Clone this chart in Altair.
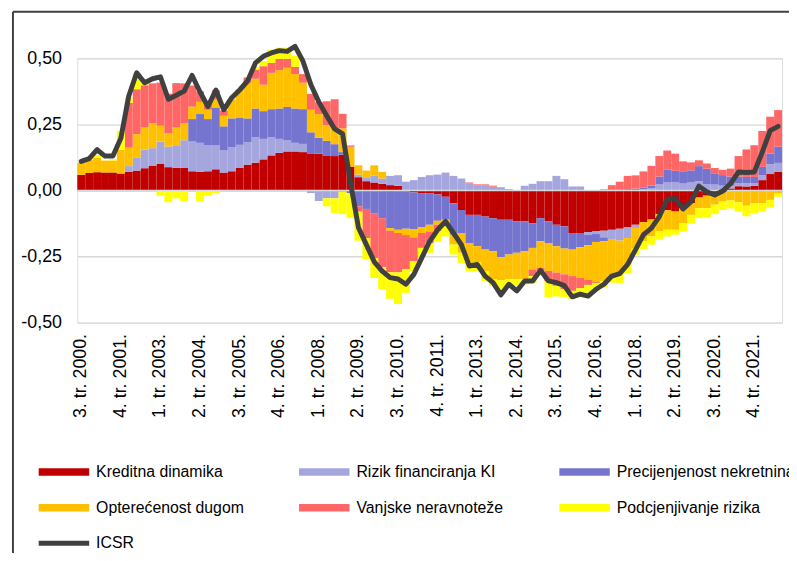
import altair as alt
import pandas as pd

# ---------------- data ----------------
n_q = 89
quarters = [f"{(i + 2) % 4 + 1}. tr. {2000 + (i + 2) // 4}." for i in range(n_q)]
tick_labels = quarters[::5]

series_names = [
    "Kreditna dinamika",
    "Rizik financiranja KI",
    "Precijenjenost nekretnina",
    "Opterećenost dugom",
    "Vanjske neravnoteže",
    "Podcjenjivanje rizika",
]
series_colors = ["#C00000", "#A6A6DF", "#7575CF", "#FFC000", "#FF6666", "#FFFF00"]

kreditna = [
    0.059, 0.066, 0.069, 0.068, 0.068, 0.064, 0.070, 0.075, 0.084, 0.094,
    0.100, 0.088, 0.086, 0.085, 0.0725, 0.070, 0.0725, 0.080, 0.0675, 0.0725,
    0.085, 0.0975, 0.105, 0.1175, 0.1325, 0.1425, 0.1475, 0.1475, 0.145, 0.140,
    0.139, 0.1325, 0.130, 0.135, 0.090, 0.050, 0.035, 0.030, 0.025, 0.020,
    0.0175, 0.003, -0.0075, -0.010, -0.012, -0.015, -0.024, -0.049, -0.074, -0.0925,
    -0.0925, -0.099, -0.105, -0.111, -0.111, -0.1175, -0.1175, -0.124, -0.105, -0.1175,
    -0.130, -0.136, -0.161, -0.161, -0.1575, -0.155, -0.1525, -0.149, -0.145, -0.140,
    -0.130, -0.120, -0.110, -0.090, -0.075, -0.080, -0.066, -0.048, -0.027, -0.020,
    -0.014, -0.006, 0.0075, 0.016, 0.015, 0.018, 0.039, 0.062, 0.070,
]
rizik_fin = [
    0, 0, 0, 0, 0, 0, 0.022, 0.050, 0.070, 0.066,
    0.085, 0.078, 0.085, 0.105, 0.1125, 0.110, 0.0975, 0.090, 0.0835, 0.0915,
    0.0875, 0.085, 0.096, 0.0775, 0.0685, 0.0525, 0.0415, 0.0325, 0.031, -0.010,
    -0.040, -0.030, -0.030, -0.005, 0, 0.010, 0.015, 0.025, 0.020, 0.035,
    0.040, 0.030, 0.039, 0.051, 0.0575, 0.060, 0.0675, 0.055, 0.045, 0.026,
    0.020, 0.020, 0.014, 0.010, 0.005, 0.001, 0.0175, 0.025, 0.035, 0.035,
    0.055, 0.0425, 0.015, 0.015, -0.010, -0.010, -0.025, -0.035, -0.045, -0.040,
    -0.012, 0.004, 0.008, 0.0225, 0.030, 0.032, 0.026, 0.030, 0.035, 0.024,
    0.022, 0.018, 0.010, 0.012, 0.012, 0.010, 0.0185, 0.037, 0.034,
]
precijenjenost = [
    0, 0, 0, 0, 0, 0, 0, 0, 0, 0,
    0, 0, 0, 0, 0.085, 0.109, 0.100, 0.144, 0.0915, 0.1085,
    0.1035, 0.090, 0.109, 0.105, 0.1065, 0.115, 0.127, 0.130, 0.1315, 0.080,
    0.060, 0.055, 0.045, 0.010, -0.010, -0.060, -0.070, -0.086, -0.105, -0.1425,
    -0.149, -0.145, -0.140, -0.130, -0.118, -0.100, -0.087, -0.1185, -0.087, -0.1065,
    -0.1185, -0.125, -0.125, -0.1415, -0.1315, -0.1185, -0.1125, -0.0935, -0.0875, -0.0815,
    -0.081, -0.084, -0.063, -0.054, -0.040, -0.030, -0.015, 0, 0, 0.005,
    0.007, 0.006, 0.010, 0.030, 0.048, 0.042, 0.044, 0.046, 0.057, 0.058,
    0.043, 0.040, 0.035, 0.025, 0.024, 0.023, 0.0315, 0.040, 0.062,
]
opterecenost = [
    0.045, 0.050, 0.055, 0.045, 0.045, 0.090, 0.070, 0.088, 0.084, 0.095,
    0.060, 0.050, 0.067, 0.065, 0.047, 0.046, 0.035, 0.030, 0.040, 0.0725,
    0.1065, 0.135, 0.1125, 0.100, 0.1375, 0.145, 0.148, 0.130, 0.100, 0.085,
    0.090, 0.060, 0.060, 0.090, 0.075, 0.035, 0.025, 0.040, 0.025, -0.010,
    -0.012, -0.024, -0.030, -0.021, -0.025, -0.015, -0.010, -0.0375, -0.075, -0.075,
    -0.060, -0.081, -0.106, -0.0875, -0.0935, -0.100, -0.106, -0.0815, -0.100, -0.106,
    -0.100, -0.0975, -0.100, -0.115, -0.130, -0.150, -0.150, -0.140, -0.120, -0.100,
    -0.076, -0.0725, -0.064, -0.065, -0.074, -0.069, -0.058, -0.0445, -0.0405, -0.047,
    -0.040, -0.036, -0.038, -0.045, -0.058, -0.048, -0.048, -0.036, -0.012,
]
vanjske = [
    0, 0, 0, 0, 0, 0, 0.170, 0.170, 0.160, 0.150,
    0.163, 0.150, 0.168, 0.150, 0.080, 0.040, 0.025, 0.035, 0.020, 0,
    0, 0.020, 0.035, 0.070, 0.0375, 0.0425, 0.034, 0.0275, 0.0325, 0.060,
    0.045, 0.090, 0.110, 0.055, 0.005, -0.020, -0.110, -0.170, -0.185, -0.1575,
    -0.149, -0.1285, -0.090, -0.0565, -0.044, -0.025, -0.010, 0, 0, 0.004,
    0.003, 0.003, 0.004, 0.002, 0, 0, 0, -0.025, -0.0125, -0.0375,
    -0.050, -0.0565, -0.056, -0.040, -0.020, -0.005, 0.004, 0.020, 0.033, 0.050,
    0.050, 0.062, 0.075, 0.0775, 0.073, 0.065, 0.040, 0.030, 0.022, 0.020,
    0.020, 0.020, 0.030, 0.077, 0.104, 0.120, 0.136, 0.140, 0.138,
]
podcjenjivanje = [
    0, 0.005, 0.010, 0, 0.005, 0.070, 0.020, 0.060, 0.010, 0,
    -0.020, -0.045, -0.030, -0.040, 0, -0.040, -0.020, -0.010, 0, 0,
    0, 0, 0.010, 0.020, 0.050, 0.0425, 0.042, 0.0425, 0, 0,
    0, -0.030, -0.055, -0.085, -0.095, -0.110, -0.080, -0.075, -0.085, -0.100,
    -0.120, -0.090, -0.0375, -0.0375, -0.037, -0.0375, -0.043, -0.0375, -0.038, -0.031,
    -0.035, -0.0375, -0.025, -0.0525, -0.025, -0.025, -0.019, -0.025, -0.015, -0.0625,
    -0.040, -0.030, -0.030, -0.035, -0.040, -0.030, -0.025, -0.025, -0.040, -0.035,
    -0.025, -0.030, -0.031, -0.031, -0.025, -0.0185, -0.031, -0.0315, -0.0375, -0.035,
    -0.036, -0.032, -0.030, -0.035, -0.040, -0.038, -0.032, -0.027, -0.012,
]
icsr = [
    0.110, 0.120, 0.154, 0.130, 0.130, 0.1975, 0.3575, 0.445, 0.4075, 0.4225,
    0.430, 0.345, 0.360, 0.376, 0.435, 0.3725, 0.3175, 0.380, 0.305, 0.351,
    0.380, 0.414, 0.4825, 0.5075, 0.520, 0.529, 0.526, 0.545, 0.489, 0.400,
    0.335, 0.2825, 0.2325, 0.214, 0.030, -0.140, -0.205, -0.270, -0.305, -0.330,
    -0.335, -0.355, -0.3175, -0.255, -0.1925, -0.149, -0.1175, -0.161, -0.205, -0.286,
    -0.280, -0.324, -0.349, -0.395, -0.355, -0.380, -0.3425, -0.3425, -0.3025, -0.3425,
    -0.349, -0.360, -0.4025, -0.3925, -0.400, -0.374, -0.355, -0.324, -0.315, -0.280,
    -0.224, -0.1675, -0.1425, -0.099, -0.0325, -0.030, -0.070, -0.0425, 0.016, -0.005,
    -0.0175, -0.0025, 0.026, 0.070, 0.0675, 0.070, 0.145, 0.226, 0.2425,
]

# ---------------- tables ----------------
series_values = [kreditna, rizik_fin, precijenjenost, opterecenost, vanjske, podcjenjivanje]
rows = []
for k, (name, vals) in enumerate(zip(series_names, series_values)):
    for i, v in enumerate(vals):
        rows.append({"q": quarters[i], "series": name, "order": k, "value": v})
df_bars = pd.DataFrame(rows)
df_line = pd.DataFrame({"q": quarters, "icsr": icsr, "name": "ICSR"})

FONT = "Liberation Sans"
x_enc = alt.X(
    "q:N",
    sort=quarters,
    scale=alt.Scale(paddingInner=0, paddingOuter=0),
    axis=alt.Axis(
        values=tick_labels, labelAngle=-90, labelAlign="right", labelBaseline="middle",
        labelPadding=11, labelFontSize=18, labelFont=FONT, labelColor="#000000",
        labelOverlap=False, ticks=False, domain=False, grid=False, title=None,
    ),
)
y_scale = alt.Scale(domain=[-0.5, 0.5], nice=False, zero=False)

bars = alt.Chart(df_bars).mark_bar().encode(
    x=x_enc,
    y=alt.Y(
        "value:Q", stack="zero", scale=y_scale,
        axis=alt.Axis(
            values=[-0.5, -0.25, 0, 0.25, 0.5],
            labelExpr="replace(replace(format(datum.value, '.2f'), '.', ','), '\u2212', '-')",
            labelFontSize=18, labelFont=FONT, labelColor="#000000", labelPadding=16,
            ticks=False, domain=False, grid=True, gridColor="#D9D9D9", gridWidth=1.3,
            title=None,
        ),
    ),
    fill=alt.Fill(
        "series:N", sort=series_names,
        scale=alt.Scale(domain=series_names, range=series_colors),
        legend=alt.Legend(
            orient="none", legendX=-42, legendY=410, columns=3, direction="horizontal",
            gridAlign="all", columnPadding=22, rowPadding=20, title=None,
            symbolType="M-1,-0.75L9.2,-0.75L9.2,0.75L-1,0.75Z", symbolSize=100,
            symbolStrokeWidth=0, symbolOpacity=1, labelOffset=45,
            labelFontSize=16, labelFont=FONT, labelColor="#000000", labelLimit=400,
        ),
    ),
    order=alt.Order("order:Q"),
)

zero_rule = alt.Chart(pd.DataFrame({"z": [0.0]})).mark_rule(
    color="#D9D9D9", strokeWidth=1.5
).encode(y=alt.Y("z:Q", scale=y_scale))

line = alt.Chart(df_line).mark_line(
    strokeWidth=5, strokeJoin="round", strokeCap="round"
).encode(
    x=alt.X("q:N", sort=quarters),
    y=alt.Y("icsr:Q", scale=y_scale),
    stroke=alt.Stroke(
        "name:N", scale=alt.Scale(domain=["ICSR"], range=["#404040"]),
        legend=alt.Legend(
            orient="none", legendX=-42, legendY=482, title=None,
            symbolType="M-1,0L9.2,0", symbolSize=100, symbolStrokeWidth=5,
            labelOffset=45, labelFontSize=16, labelFont=FONT, labelColor="#000000",
        ),
    ),
)

frame_df = pd.DataFrame({"f": [0]})
frame_top = alt.Chart(frame_df).mark_rule(color="#404040", strokeWidth=2).encode(
    x=alt.value(-65), x2=alt.value(740), y=alt.value(-47)
)
frame_left = alt.Chart(frame_df).mark_rule(color="#404040", strokeWidth=2).encode(
    x=alt.value(-65), y=alt.value(-47), y2=alt.value(510)
)

chart = alt.layer(bars, zero_rule, line, frame_top, frame_left).properties(
    width=712, height=267,
    autosize=alt.AutoSizeParams(type="none"),
    padding={"left": 70, "top": 48, "right": 7, "bottom": 230},
).configure_view(stroke=None).configure(background="white")

chart.save("out.html", embed_options={"renderer": "svg", "actions": False})
